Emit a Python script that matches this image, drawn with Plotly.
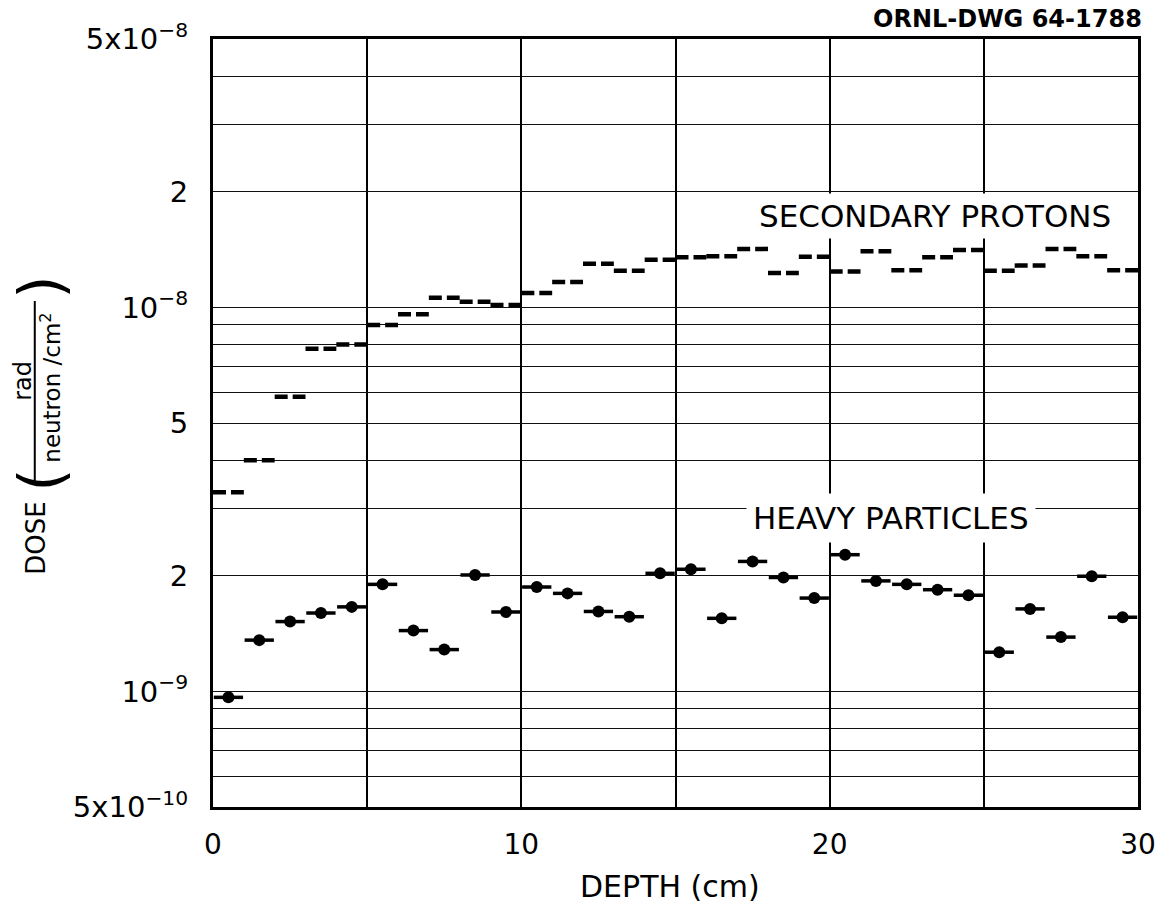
import math
import plotly.graph_objects as go

# Depth slabs (cm): left edge of each 1-cm slab
bin_start = list(range(30))
bin_width = 1.0

# Dose per unit fluence, rad/(neutron/cm^2), per slab
proton_dose = [3.30e-9, 4.00e-9, 5.85e-9, 7.80e-9, 8.00e-9,
               9.00e-9, 9.60e-9, 1.06e-8, 1.035e-8, 1.015e-8,
               1.09e-8, 1.165e-8, 1.30e-8, 1.245e-8, 1.33e-8,
               1.35e-8, 1.36e-8, 1.42e-8, 1.23e-8, 1.355e-8,
               1.24e-8, 1.40e-8, 1.25e-8, 1.35e-8, 1.41e-8,
               1.245e-8, 1.285e-8, 1.42e-8, 1.36e-8, 1.25e-8]

heavy_dose = [0.965e-9, 1.36e-9, 1.52e-9, 1.60e-9, 1.66e-9,
              1.90e-9, 1.44e-9, 1.285e-9, 2.01e-9, 1.61e-9,
              1.87e-9, 1.80e-9, 1.615e-9, 1.565e-9, 2.03e-9,
              2.08e-9, 1.55e-9, 2.18e-9, 1.98e-9, 1.75e-9,
              2.27e-9, 1.94e-9, 1.90e-9, 1.84e-9, 1.78e-9,
              1.265e-9, 1.64e-9, 1.385e-9, 1.995e-9, 1.56e-9]

# Labelled ticks and the extra log-paper rulings between them
y_ticks = [5e-10, 1e-9, 2e-9, 5e-9, 1e-8, 2e-8, 5e-8]
y_tick_text = ["5x10<sup>−10</sup>", "10<sup>−9</sup>", "2", "5",
               "10<sup>−8</sup>", "2", "5x10<sup>−8</sup>"]
y_rulings = [6e-10, 7e-10, 8e-10, 9e-10, 3e-9, 4e-9, 6e-9, 7e-9, 8e-9,
             9e-9, 3e-8, 4e-8]
x_ticks = [0, 10, 20, 30]
x_tick_text = ["0", "10", "20", "30"]
x_rulings = [5, 15, 25]

W, H = 1168, 905
ML, MR, MT, MB = 213, 26, 39, 98
PW, PH = W - ML - MR, H - MT - MB
FONT = "DejaVu Sans"


def px(xp):
    return (xp - ML) / PW


def py(yp):
    return (H - MB - yp) / PH


# Secondary protons: one flat dashed segment per slab
px_list, py_list = [], []
for s, v in zip(bin_start, proton_dose):
    px_list += [s, s + bin_width, None]
    py_list += [v, v, None]

fig = go.Figure()
fig.add_trace(go.Scatter(
    x=px_list, y=py_list, mode="lines",
    line=dict(color="black", width=4.5, dash="13px,5px"),
    connectgaps=False, showlegend=False, hoverinfo="skip",
))

# Heavy particles: dot at slab centre with a bar spanning the slab
fig.add_trace(go.Scatter(
    x=[s + bin_width / 2 for s in bin_start], y=heavy_dose, mode="markers",
    marker=dict(color="black", size=12),
    error_x=dict(type="constant", value=bin_width / 2 * 0.95, width=0,
                 thickness=3.5, color="black"),
    showlegend=False,
))

fig.update_xaxes(
    range=[0, 30], tickvals=x_ticks, ticktext=x_tick_text,
    showgrid=True, gridcolor="black", gridwidth=1.8, zeroline=False,
    minor=dict(tickvals=x_rulings, showgrid=True, gridcolor="black",
               gridwidth=1.8, ticks=""),
    showline=True, linecolor="black", linewidth=3, mirror=True,
    ticks="", ticklabelstandoff=10,
    tickfont=dict(family=FONT, size=28, color="black"),
)
fig.update_yaxes(
    type="log", range=[math.log10(5e-10), math.log10(5e-8)],
    tickvals=y_ticks, ticktext=y_tick_text,
    showgrid=True, gridcolor="#111111", gridwidth=1.3, zeroline=False,
    minor=dict(tickvals=y_rulings, showgrid=True, gridcolor="#111111",
               gridwidth=1.3, ticks=""),
    showline=True, linecolor="black", linewidth=3, mirror=True,
    ticks="", ticklabelstandoff=16,
    tickfont=dict(family=FONT, size=29, color="black"),
)

annotations = [
    dict(text="ORNL-DWG 64-1788", x=px(1148), y=py(19), xanchor="right",
         yanchor="middle", font=dict(family=FONT, size=24, color="black",
                                     weight="bold")),
    dict(text="SECONDARY PROTONS", x=px(938), y=py(216), xanchor="center",
         yanchor="middle", bgcolor="white", borderpad=4,
         font=dict(family=FONT, size=31, color="black")),
    dict(text="HEAVY PARTICLES", x=px(894), y=py(518), xanchor="center",
         yanchor="middle", bgcolor="white", borderpad=6,
         font=dict(family=FONT, size=31, color="black")),
    dict(text="DEPTH (cm)", x=px(672), y=py(886), xanchor="center",
         yanchor="middle", font=dict(family=FONT, size=30, color="black")),
    # vertical axis title: DOSE (rad / neutron/cm^2)
    dict(text="DOSE", x=px(35), y=py(538), textangle=-90, xanchor="center",
         yanchor="middle", font=dict(family=FONT, size=26, color="black")),
    dict(text="(", x=px(40), y=py(480), textangle=-90, xanchor="center",
         yanchor="middle", font=dict(family=FONT, size=60, color="black")),
    dict(text=")", x=px(40), y=py(287), textangle=-90, xanchor="center",
         yanchor="middle", font=dict(family=FONT, size=60, color="black")),
    dict(text="rad", x=px(22), y=py(381), textangle=-90, xanchor="center",
         yanchor="middle", font=dict(family=FONT, size=24, color="black")),
    dict(text="neutron /cm<sup>2</sup>", x=px(50), y=py(388), textangle=-90,
         xanchor="center", yanchor="middle",
         font=dict(family=FONT, size=23, color="black")),
]
for a in annotations:
    a.update(xref="paper", yref="paper", showarrow=False)

fig.update_layout(
    width=W, height=H,
    margin=dict(l=ML, r=MR, t=MT, b=MB),
    paper_bgcolor="white", plot_bgcolor="white",
    annotations=annotations,
    shapes=[dict(type="line", xref="paper", yref="paper",
                 x0=px(34), x1=px(34), y0=py(301), y1=py(483),
                 line=dict(color="black", width=2))],
)

fig.write_html("out.html")
